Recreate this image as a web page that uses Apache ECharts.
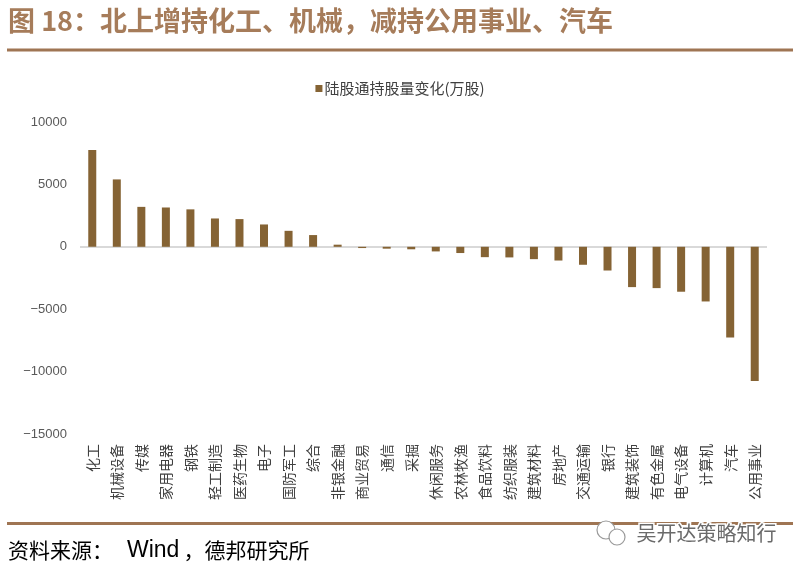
<!DOCTYPE html>
<html>
<head>
<meta charset="utf-8">
<script src="https://cdn.jsdelivr.net/npm/echarts@6/dist/echarts.min.js"></script>
<style>
html,body{margin:0;padding:0;background:#fff;}
#main{width:800px;height:568px;}
</style>
</head>
<body>
<div id="main"></div>
<script>
var categories = ['化工','机械设备','传媒','家用电器','钢铁','轻工制造','医药生物','电子','国防军工','综合','非银金融','商业贸易','通信','采掘','休闲服务','农林牧渔','食品饮料','纺织服装','建筑材料','房地产','交通运输','银行','建筑装饰','有色金属','电气设备','计算机','汽车','公用事业'];
var holdingChange = [7750, 5400, 3200, 3150, 3000, 2270, 2220, 1790, 1280, 940, 170, -100, -150, -200, -370, -500, -830, -850, -990, -1100, -1440, -1900, -3230, -3310, -3600, -4380, -7270, -10750];
var seriesName = '陆股通持股量变化(万股)';
var titleText = '图 18：北上增持化工、机械，减持公用事业、汽车';
var sourceLead = '资料来源：';
var sourceName = 'Wind';
var sourceTail = '，德邦研究所';
var watermarkText = '吴开达策略知行';
var yMin = -15000, yMax = 10000, yInterval = 5000;

var chart = echarts.init(document.getElementById('main'), null, {renderer: 'canvas'});
var cjk = '"Noto Sans CJK SC", "Noto Sans", sans-serif';
var option = {
  backgroundColor: '#ffffff',
  animation: false,
  legend: {
    data: [seriesName],
    top: 76,
    left: 'center',
    icon: 'rect',
    itemWidth: 7,
    itemHeight: 7,
    itemGap: 10,
    textStyle: {fontSize: 15, color: '#404040', fontFamily: cjk, padding: [0,0,0,-3]}
  },
  grid: {left: 80, right: 33, top: 122, bottom: 134},
  xAxis: {
    type: 'category',
    data: categories,
    position: 'bottom',
    axisLine: {show: false, onZero: false},
    axisTick: {show: false},
    axisLabel: {rotate: 90, interval: 0, margin: 10, fontSize: 14, color: '#404040', fontFamily: cjk}
  },
  yAxis: {
    type: 'value',
    min: yMin, max: yMax, interval: yInterval,
    axisLine: {show: false},
    axisTick: {show: false},
    splitLine: {show: false},
    axisLabel: {
      fontSize: 13, color: '#595959', margin: 13, fontFamily: '"Liberation Sans", Arial, sans-serif',
      formatter: function (v) { return String(v).replace('-', '\u2212'); }
    }
  },
  series: [{
    name: seriesName,
    type: 'bar',
    data: holdingChange,
    barWidth: 8,
    itemStyle: {color: '#856334'},
    markLine: {
      silent: true,
      symbol: 'none',
      label: {show: false},
      lineStyle: {color: '#d9d9d9', width: 2, type: 'solid'},
      data: [{yAxis: 0}],
      z: 1
    }
  }],
  graphic: [
    {type: 'text', left: 8, top: 7, style: {text: titleText, font: 'bold 27px ' + cjk, fill: '#a67c5a'}},
    {type: 'rect', shape: {x: 7, y: 48.5, width: 786, height: 3}, style: {fill: '#9f7553'}},
    {type: 'rect', shape: {x: 7, y: 522, width: 786, height: 3}, style: {fill: '#9f7553'}},
    {type: 'text', left: 8, top: 539, style: {
      text: '{a|' + sourceLead + '}{b|' + sourceName + '}{a|' + sourceTail + '}',
      rich: {
        a: {fontSize: 21, fontFamily: cjk, fill: '#000000', color: '#000000'},
        b: {fontSize: 23, fontFamily: '"Liberation Sans", Arial, sans-serif', fill: '#000000', color: '#000000', padding: [0, 4, 0, 14]}
      }
    }},
    {type: 'circle', shape: {cx: 606, cy: 530, r: 9}, style: {fill: '#ffffff', stroke: '#9a9a9a', lineWidth: 1.2}, z: 10},
    {type: 'circle', shape: {cx: 617, cy: 537, r: 8}, style: {fill: '#ffffff', stroke: '#9a9a9a', lineWidth: 1.2}, z: 11},
    {type: 'text', left: 635, top: 522, z: 12, style: {text: watermarkText, font: '20px ' + cjk, fill: '#6a6a6a', stroke: '#ffffff', lineWidth: 3}}
  ]
};
chart.setOption(option);
</script>
</body>
</html>
